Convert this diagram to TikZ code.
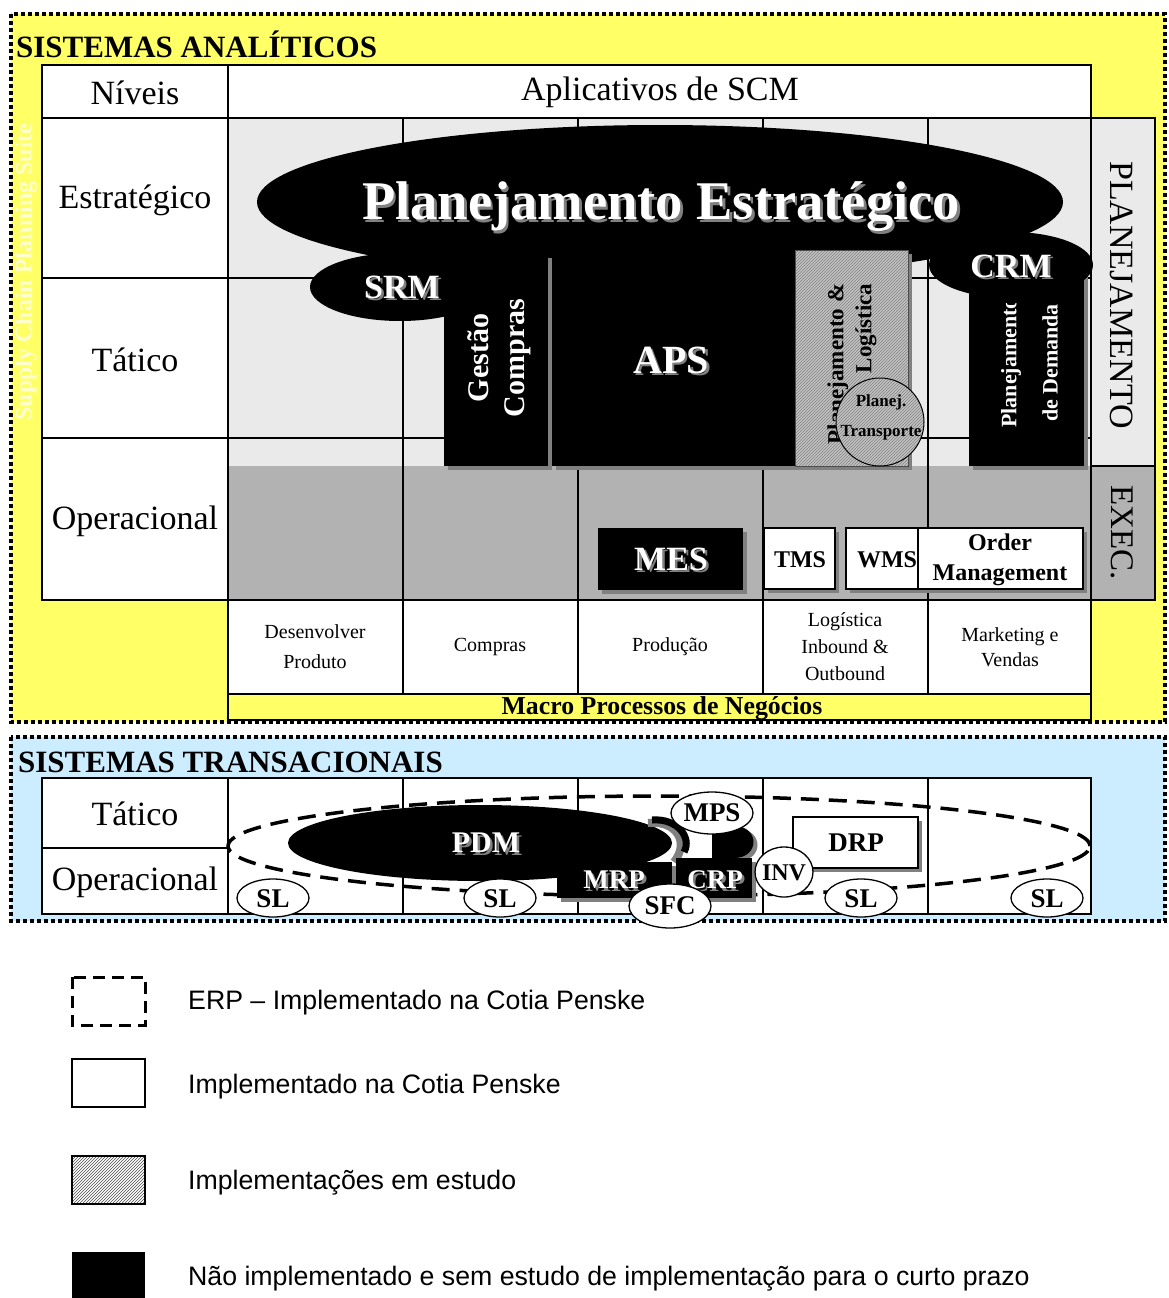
\documentclass[tikz,border=0pt]{standalone}
\usepackage{fontspec}
\setmainfont{Liberation Serif}
\newfontfamily\arialf{Liberation Sans}
\usetikzlibrary{patterns}
\definecolor{yel}{HTML}{FFFF66}
\definecolor{blu}{HTML}{CCECFF}
\definecolor{lgr}{HTML}{EAEAEA}
\definecolor{mgr}{HTML}{B2B2B2}
\definecolor{shc}{HTML}{808080}
\definecolor{hgr}{HTML}{C4C4C4}
\definecolor{pyel}{HTML}{FFFFD0}
\newcommand\shnode[4][]{%
  \node[inner sep=0, #1, text=shc] (#2-sh) at ([shift={(2.5,2.5)}]#3) {#4};
  \node[inner sep=0, #1, text=white] (#2) at (#3) {#4};}
\newcommand\fs[2]{\fontsize{#1}{#2}\selectfont}
\begin{document}
\begin{tikzpicture}[x=1pt,y=-1pt,
  cell/.style={draw, line width=1.3},
  thinl/.style={line width=1.3},
  dotb/.style={line width=4, dash pattern=on 4 off 3},
  lab/.style={inner sep=0, font=\fs{34}{40}},
  wbox/.style={fill=white, draw, line width=1.3},
  bt/.style={inner sep=0, font=\fs{27}{30}\bfseries},
  leg/.style={inner sep=0, anchor=west, font=\arialf\fs{26.7}{30}},
  mac/.style={inner sep=0, align=center, font=\fs{20}{27}}]
\useasboundingbox (0,0) rectangle (1169,1298);
\fill[white] (0,0) rectangle (1169,1298);

% ===== Sistemas analiticos =====
\fill[yel] (11,14) rectangle (1165,722);
\node[inner sep=0, anchor=west, font=\fs{31}{34}\bfseries] (tanal) at (16,44) {SISTEMAS ANALÍTICOS};
\node[inner sep=0, rotate=90, text=pyel, font=\fs{24}{28}\bfseries] (scps) at (26,272) {Supply Chain Planning Suite};

% table
\fill[white] (42,65) rectangle (1091,118);
\fill[white] (42,118) rectangle (228,600);
\fill[lgr] (228,118) rectangle (1091,466);
\fill[mgr] (228,466) rectangle (1091,600);
\fill[white] (228,600) rectangle (1091,694);
\fill[lgr] (1091,118) rectangle (1155,466);
\fill[mgr] (1091,466) rectangle (1155,600);
\foreach \xx in {403,578,763,928} \draw[thinl] (\xx,118) -- (\xx,694);
\draw[thinl] (42,278) -- (1091,278);
\draw[thinl] (42,438) -- (1091,438);
\draw[cell] (42,65) rectangle (228,118);
\draw[cell] (228,65) rectangle (1091,118);
\draw[cell] (42,118) rectangle (228,600);
\draw[cell] (228,118) rectangle (1091,600);
\draw[cell] (228,600) rectangle (1091,694);
\draw[cell, fill=yel] (228,694) rectangle (1091,720);
\draw[cell] (1091,118) rectangle (1155,466);
\draw[cell] (1091,466) rectangle (1155,600);

\node[lab] (niveis) at (135,93) {Níveis};
\node[lab] (aplic) at (660,92) {Aplicativos de SCM};
\node[lab] (estr) at (135,200) {Estratégico};
\node[lab] (tat) at (135,360) {Tático};
\node[lab] (oper) at (135,521) {Operacional};
\node[lab, rotate=-90] (plan) at (1122,295) {PLANEJAMENTO};
\node[lab, rotate=-90, font=\fs{33}{38}] (exec) at (1122,533) {EXEC.};

\node[mac] (m1) at (315,647) {Desenvolver\\[3pt]Produto};
\node[mac] (m2) at (490,647) {Compras};
\node[mac] (m3) at (670,647) {Produção};
\node[mac] (m4) at (845,647) {Logística\\Inbound \&\\Outbound};
\node[mac, font=\fs{20}{25}] (m5) at (1010,647) {Marketing e\\Vendas};
\node[inner sep=0, font=\fs{25.8}{28}\bfseries] (macro) at (662,708) {Macro Processos de Negócios};

% black shapes
\fill[black] (660,202) ellipse [x radius=403pt, y radius=77pt];
\fill[black] (400,287) ellipse [x radius=90pt, y radius=34pt];
\fill[shc] (448,258) rectangle (552,470);
\fill[black] (444,255) rectangle (548,466);
\fill[shc] (556,254) rectangle (799,470);
\fill[black] (552,250) rectangle (795,466);
\fill[shc] (799,254) rectangle (912,470);
\fill[hgr] (795,250) rectangle (908,466);
\fill[pattern=north east lines, pattern color=shc] (795,250) rectangle (908,466);
\draw[line width=0.8, shc!60!black] (795,250) rectangle (908,466);
\node[inner sep=0, rotate=90, align=right, font=\fs{23}{28}\bfseries] (plog) at (852,364) {Planejamento \&\\Logística};
\fill[hgr] (880,422) ellipse [x radius=44pt, y radius=44pt];
\fill[pattern=north east lines, pattern color=shc] (880,422) ellipse [x radius=44pt, y radius=44pt];
\draw[line width=1] (880,422) ellipse [x radius=44pt, y radius=44pt];
\node[inner sep=0, font=\fs{17}{20}\bfseries] (pj) at (881,402) {Planej.};
\node[inner sep=0, font=\fs{17}{20}\bfseries] (tr) at (881,433) {Transporte};
\fill[shc] (973,270) rectangle (1088,470);
\fill[black] (969,266) rectangle (1084,466);
\fill[black] (1011,265) ellipse [x radius=82pt, y radius=33pt];

\shnode[font=\fs{54.5}{60}\bfseries]{pe}{661,207}{Planejamento Estratégico}
\shnode[font=\fs{34}{38}\bfseries]{srm}{402,287}{SRM}
\shnode[font=\fs{34}{38}\bfseries]{crm}{1011,266}{CRM}
\shnode[font=\fs{40}{44}\bfseries]{aps}{671,360}{APS}
\node[inner sep=0, rotate=90, align=center, text=white, font=\fs{30}{36}\bfseries] (gc) at (499,358) {Gestão\\Compras};
\begin{scope}
\clip (985,303) rectangle (1035,445);
\node[inner sep=0, rotate=90, text=white, font=\fs{22}{26}\bfseries] (pdem) at (1011,363) {Planejamento};
\end{scope}
\node[inner sep=0, rotate=90, text=white, font=\fs{22}{26}\bfseries] (dem) at (1050,363) {de Demanda};

% exec boxes
\fill[shc] (602,532) rectangle (747,594);
\fill[black] (598,528) rectangle (743,590);
\shnode[font=\fs{34}{38}\bfseries]{mes}{671,559}{MES}
\fill[shc] (768,532) rectangle (839,593);
\draw[wbox] (764,528) rectangle (835,589);
\fill[shc] (850,532) rectangle (922,593);
\draw[wbox] (846,528) rectangle (918,589);
\fill[shc] (922,532) rectangle (1087,593);
\draw[wbox] (918,528) rectangle (1083,589);
\node[inner sep=0, font=\fs{24}{28}\bfseries] (tms) at (800,560) {TMS};
\node[inner sep=0, font=\fs{24}{28}\bfseries] (wms) at (887,560) {WMS};
\node[inner sep=0, align=center, font=\fs{24}{30}\bfseries] (om) at (1000,560) {Order\\Management};

\draw[dotb] (11,14) rectangle (1165,722);

% ===== Sistemas transacionais =====
\fill[blu] (11,737) rectangle (1165,921);
\node[inner sep=0, anchor=west, font=\fs{31}{34}\bfseries] (ttran) at (18,762) {SISTEMAS TRANSACIONAIS};
\draw[cell, fill=white] (42,778) rectangle (228,914);
\draw[thinl] (42,848) -- (228,848);
\draw[cell, fill=white] (228,778) rectangle (1091,914);
\foreach \xx in {403,578,763,928} \draw[thinl] (\xx,778) -- (\xx,914);
\node[lab] (tat2) at (135,814) {Tático};
\node[lab] (oper2) at (135,882) {Operacional};
\draw[dotb] (11,737) rectangle (1165,921);

\draw[line width=3.5, dash pattern=on 18 off 10] (659,846) ellipse [x radius=431pt, y radius=50pt];

\fill[black] (480,843) ellipse [x radius=192pt, y radius=38pt];
\draw[shc, line width=8] (648,823) .. controls (676,820) and (690,842) .. (674,862);
\draw[black, line width=7] (652,820) .. controls (678,818) and (692,838) .. (684,852);
\fill[shc] (716,829) -- (738,829) .. controls (764,829) and (764,861) .. (738,861) -- (716,861) -- cycle;
\fill[black] (712,826) -- (734,826) .. controls (760,826) and (760,858) .. (734,858) -- (712,858) -- cycle;
\shnode[font=\fs{30}{34}\bfseries]{pdm}{486,843}{PDM}

\fill[shc] (561,866) rectangle (676,902);
\fill[black] (557,862) rectangle (672,898);
\fill[shc] (680,862) rectangle (756,902);
\fill[black] (676,858) rectangle (752,898);
\shnode[bt]{mrp}{614,880}{MRP}
\shnode[bt]{crp}{715,880}{CRP}

\fill[shc] (797,821) rectangle (922,872);
\draw[wbox] (793,817) rectangle (918,868);
\node[bt] (drp) at (856,843) {DRP};

\draw[wbox] (712,813) ellipse [x radius=41pt, y radius=21pt];
\node[bt] (mps) at (712,813) {MPS};
\draw[wbox] (784,872) ellipse [x radius=29pt, y radius=25pt];
\node[bt, font=\fs{24}{28}\bfseries] (inv) at (784,873) {INV};
\draw[wbox] (670,906) ellipse [x radius=41pt, y radius=22pt];
\node[bt] (sfc) at (670,906) {SFC};
\foreach \xx/\nm in {273/sla,500/slb,861/slc,1047/sld} {
  \draw[wbox] (\xx,898) ellipse [x radius=36pt, y radius=19pt];
  \node[bt] (\nm) at (\xx,899) {SL};
}

% ===== Legend =====
\draw[line width=3, dash pattern=on 12 off 7] (72,977) rectangle (145,1025);
\node[leg] (l1) at (188,1003) {ERP – Implementado na Cotia Penske};
\draw[line width=1.5] (72,1059) rectangle (145,1107);
\node[leg] (l2) at (188,1087) {Implementado na Cotia Penske};
\fill[white] (72,1156) rectangle (145,1204);
\fill[pattern=north east lines, pattern color=black!70] (72,1156) rectangle (145,1204);
\draw[line width=1.5] (72,1156) rectangle (145,1204);
\node[leg] (l3) at (188,1183) {Implementações em estudo};
\fill[black] (72,1252) rectangle (145,1298);
\node[leg] (l4) at (188,1279) {Não implementado e sem estudo de implementação para o curto prazo};
\end{tikzpicture}
\end{document}
